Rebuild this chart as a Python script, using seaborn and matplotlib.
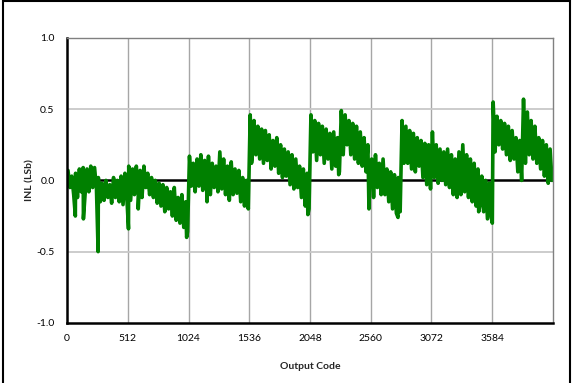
import numpy as np
import pandas as pd
import matplotlib
matplotlib.use("Agg")
import matplotlib.pyplot as plt
from matplotlib.lines import Line2D
import seaborn as sns

# INL envelope, one (high, low) pair per 32-code bin
bin_width = 32
inl_high = [
    0.07, 0.03, 0.05, 0.08, 0.09, 0.08, 0.10, 0.09,
    0.02, -0.02, 0.00, -0.03, 0.02, 0.00, 0.03, 0.05,
    0.10, 0.08, 0.10, 0.07, 0.10, 0.05, 0.02, 0.00,
    -0.02, -0.03, -0.05, -0.08, -0.05, -0.12, -0.10, -0.15,
    0.17, 0.12, 0.15, 0.18, 0.14, 0.17, 0.12, 0.10,
    0.20, 0.15, 0.10, 0.13, 0.08, 0.07, 0.02, 0.00,
    0.46, 0.42, 0.38, 0.36, 0.35, 0.32, 0.28, 0.30,
    0.25, 0.22, 0.20, 0.18, 0.15, 0.10, 0.08, 0.05,
    0.46, 0.42, 0.40, 0.38, 0.36, 0.33, 0.34, 0.30,
    0.49, 0.46, 0.42, 0.40, 0.38, 0.34, 0.30, 0.25,
    0.15, 0.18, 0.12, 0.15, 0.08, 0.06, 0.04, 0.02,
    0.42, 0.38, 0.35, 0.33, 0.30, 0.28, 0.26, 0.25,
    0.34, 0.25, 0.22, 0.20, 0.22, 0.18, 0.15, 0.20,
    0.25, 0.18, 0.15, 0.12, 0.08, 0.03, 0.00, -0.02,
    0.55, 0.45, 0.42, 0.40, 0.38, 0.35, 0.30, 0.28,
    0.57, 0.48, 0.42, 0.38, 0.30, 0.28, 0.25, 0.22,
]
inl_low = [
    -0.05, -0.10, -0.12, -0.08, -0.10, -0.08, -0.05, -0.06,
    -0.15, -0.14, -0.12, -0.16, -0.12, -0.15, -0.17, -0.12,
    -0.14, -0.10, -0.08, -0.12, -0.05, -0.10, -0.12, -0.16,
    -0.18, -0.22, -0.20, -0.25, -0.28, -0.30, -0.33, -0.36,
    -0.04, -0.08, -0.04, -0.07, -0.03, -0.10, -0.05, -0.08,
    -0.06, -0.10, -0.14, -0.10, -0.09, -0.15, -0.18, -0.20,
    0.15, 0.18, 0.15, 0.12, 0.14, 0.08, 0.10, 0.05,
    0.02, 0.03, -0.03, -0.06, -0.05, -0.12, -0.18, -0.20,
    0.20, 0.14, 0.18, 0.12, 0.15, 0.08, 0.10, 0.06,
    0.18, 0.25, 0.18, 0.15, 0.12, 0.10, 0.06, 0.02,
    -0.12, -0.05, -0.10, -0.10, -0.15, -0.20, -0.23, -0.22,
    0.12, 0.12, 0.08, 0.06, 0.10, 0.02, -0.03, -0.06,
    0.02, -0.02, 0.00, -0.03, -0.05, -0.10, -0.12, -0.10,
    -0.08, -0.12, -0.15, -0.18, -0.18, -0.22, -0.27, -0.26,
    0.20, 0.25, 0.22, 0.18, 0.14, 0.15, 0.06, 0.00,
    0.12, 0.18, 0.15, 0.12, 0.08, 0.03, -0.02, 0.00,
]

# narrow downward spikes (code, INL)
spike_code = [70, 138, 262, 518, 600, 1008, 1180, 1555, 2030, 2290, 2545, 2790, 3470, 3585]
spike_inl = [-0.25, -0.27, -0.50, -0.34, -0.20, -0.40, -0.15, 0.12, -0.24, 0.04, -0.20, -0.26, -0.22, -0.30]

x_ticks = [0, 512, 1024, 1536, 2048, 2560, 3072, 3584]
y_ticks = [-1.0, -0.5, 0.0, 0.5, 1.0]

# zigzag between high and low inside each bin, spikes slotted in by code
codes = []
values = []
for i, (hi, lo) in enumerate(zip(inl_high, inl_low)):
    codes += [i * bin_width + 8, i * bin_width + 24]
    values += [hi, lo]
codes += spike_code
values += spike_inl
df = pd.DataFrame({"code": codes, "inl": values}).sort_values("code")

sns.set_style("white")
plt.rcParams["font.family"] = ["Lato", "DejaVu Sans"]

fig = plt.figure(figsize=(5.73, 3.83), dpi=100)
ax = fig.add_axes([0.117, 0.157, 0.848, 0.744])

for xt in x_ticks[1:]:
    ax.axvline(xt, color="#a6a6a6", lw=1, zorder=0)
for yt in [-0.5, 0.5]:
    ax.axhline(yt, color="#c8c8c8", lw=1.3, zorder=0)
ax.axhline(0, color="black", lw=1.8, zorder=1)

sns.lineplot(data=df, x="code", y="inl", color="#008000", lw=2.6,
             estimator=None, sort=False, ax=ax, zorder=2)

ax.set_xlim(0, 4096)
ax.set_ylim(-1.0, 1.0)
ax.set_xticks(x_ticks)
ax.set_yticks(y_ticks)
ax.set_yticklabels([f"{v:.1f}" for v in y_ticks])
ax.tick_params(axis="both", labelsize=7.5, colors="black")
ax.tick_params(axis="x", length=0, pad=8)
ax.tick_params(axis="y", length=3, direction="out", pad=6, width=1)

for side in ["top", "right"]:
    ax.spines[side].set_color("#808080")
    ax.spines[side].set_linewidth(1)
for side in ["left", "bottom"]:
    ax.spines[side].set_color("black")
    ax.spines[side].set_linewidth(1.8)

ax.set_xlabel("Output Code", fontsize=7.5, fontweight="bold", labelpad=14)
ax.set_ylabel("INL (LSb)", fontsize=7.5, fontweight="bold", labelpad=1)

# outer frame of the picture
for xs, ys in [([0.006, 0.006], [0, 1]), ([0.994, 0.994], [0, 1]),
               ([0.006, 0.994], [0.998, 0.998])]:
    fig.add_artist(Line2D(xs, ys, color="black", lw=1.5,
                          transform=fig.transFigure))

fig.savefig("out.png", dpi=100)
